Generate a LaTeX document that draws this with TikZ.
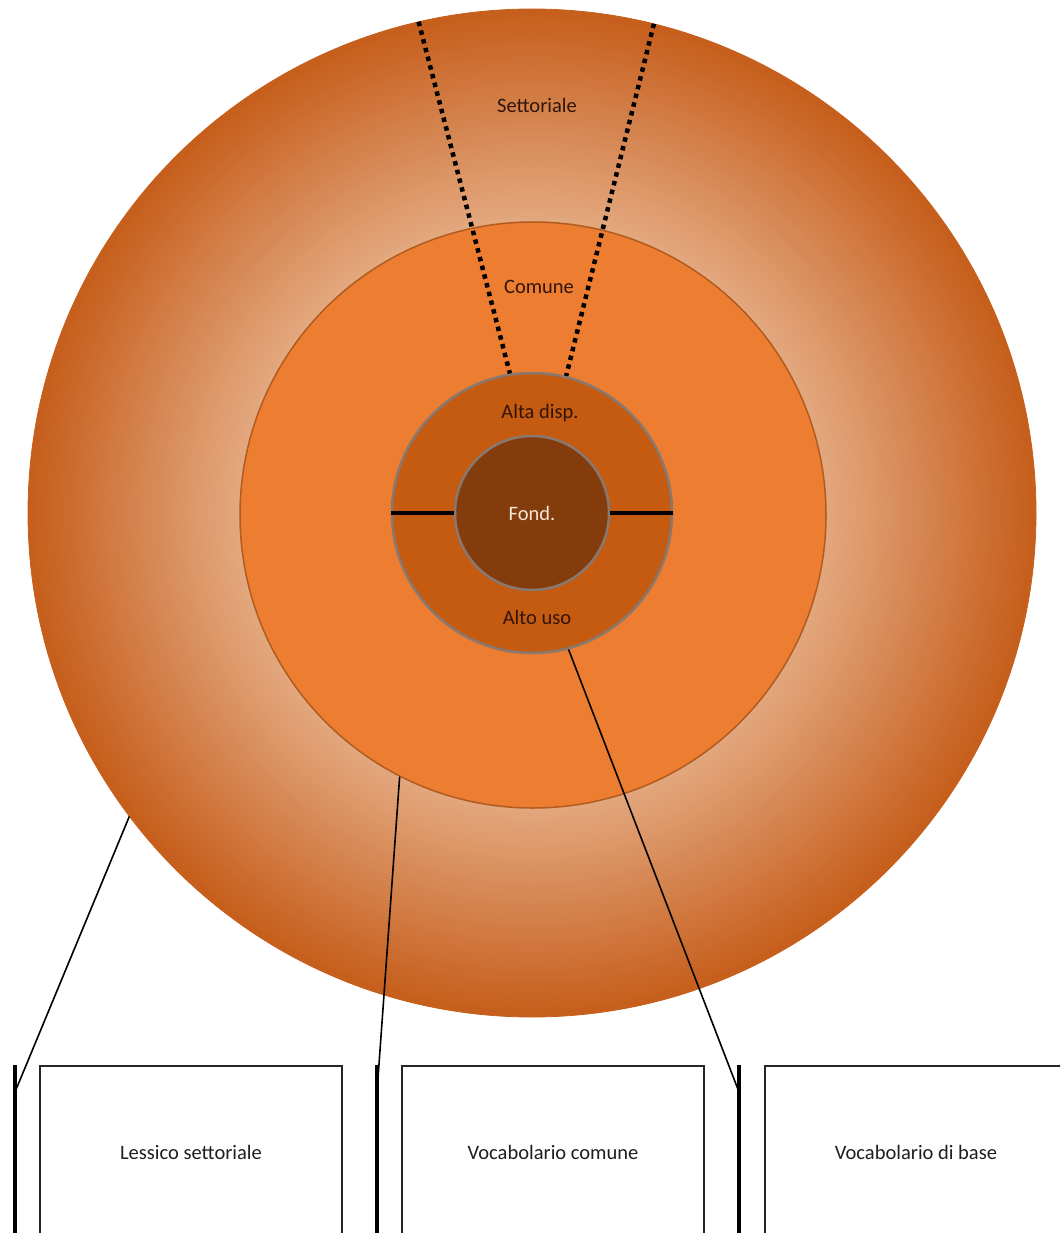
\documentclass[tikz,border=0pt]{standalone}
\usepackage{fontspec}
\setmainfont{Carlito}
\definecolor{outerdark}{RGB}{198,94,28}
\definecolor{peach}{RGB}{228,170,130}
\definecolor{midorange}{RGB}{237,125,49}
\definecolor{midedge}{RGB}{176,92,32}
\definecolor{altafill}{RGB}{197,90,17}
\definecolor{fondfill}{RGB}{132,60,12}
\definecolor{greyedge}{RGB}{135,120,112}
\definecolor{labeltext}{RGB}{50,20,10}
\definecolor{fondtext}{RGB}{245,230,215}
\definecolor{boxtext}{RGB}{30,30,30}
\begin{document}
\begin{tikzpicture}[x=1pt,y=-1pt,
  lbl/.style={font=\fontsize{20.5}{24}\selectfont, text=labeltext, anchor=base, inner sep=0pt},
  ring/.style={circle, inner sep=0pt},
  leader/.style={line width=1.6pt, black},
  barline/.style={line width=3.2pt, black},
  dotline/.style={line width=4.5pt, dash pattern=on 4.5pt off 4.5pt, black},
  splitline/.style={line width=3.6pt, black},
  boxnode/.style={draw=black!85, line width=2pt, minimum width=302pt, minimum height=172pt, anchor=north west, inner sep=0pt, font=\fontsize{20.5}{24}\selectfont, text=boxtext}
]
\path[use as bounding box] (0,0) rectangle (1060,1233);
\clip (0,0) rectangle (1060,1233);

% outer circle with stepped radial gradient
\node[ring, minimum size=1008pt] (outer) at (532,513) {};
\foreach \i in {0,...,60}{
  \pgfmathsetmacro{\rr}{504-\i*3.6}
  \pgfmathsetmacro{\pp}{\i*100/60}
  \fill[peach!\pp!outerdark] (outer.center) circle[radius=\rr pt];
}
\draw[outerdark, line width=0.8pt] (outer.center) circle[radius=504pt];

% inner circles
\node[ring, fill=midorange, draw=midedge, line width=1.5pt, minimum size=586pt] (middle) at (533,515) {};
\node[ring, fill=altafill, draw=greyedge, line width=2.5pt, minimum size=280pt] (alta) at (532,513) {};
\node[ring, fill=fondfill, draw=greyedge, line width=2.5pt, minimum size=154pt] (fond) at (532,513) {};

% split lines
\draw[splitline] (alta.west) -- (fond.west);
\draw[splitline] (fond.east) -- (alta.east);

% dotted sector lines
\draw[dotline] (outer.103.2) -- (alta.99.5);
\draw[dotline] (outer.76.7) -- (alta.76.2);

% labels
\node[lbl] (settoriale) at (537,113) {Settoriale};
\node[lbl] (comune) at (539,293) {Comune};
\node[lbl] (altadisp) at (540,418) {Alta disp.};
\node[lbl, text=fondtext] (fondlbl) at (532,520) {Fond.};
\node[lbl] (altouso) at (537,624) {Alto uso};

% boxes
\node[boxnode] (box1) at (39,1065) {Lessico settoriale};
\node[boxnode] (box2) at (401,1065) {Vocabolario comune};
\node[boxnode] (box3) at (764,1065) {Vocabolario di base};

% brackets
\coordinate (b1t) at (15,1065);
\coordinate (b1b) at (15,1240);
\coordinate (b2t) at (377,1065);
\coordinate (b2b) at (377,1240);
\coordinate (b3t) at (739,1065);
\coordinate (b3b) at (739,1240);
\draw[barline] (b1t) -- (b1b);
\draw[barline] (b2t) -- (b2b);
\draw[barline] (b3t) -- (b3b);

% leaders
\coordinate (e1) at (15,1092);
\coordinate (e2) at (377,1092);
\coordinate (e3) at (739,1092);
\draw[leader] (outer.217.2) -- (e1);
\draw[leader] (middle.243.6) -- (e2);
\draw[leader] (alta.285.7) -- (e3);
\end{tikzpicture}
\end{document}
